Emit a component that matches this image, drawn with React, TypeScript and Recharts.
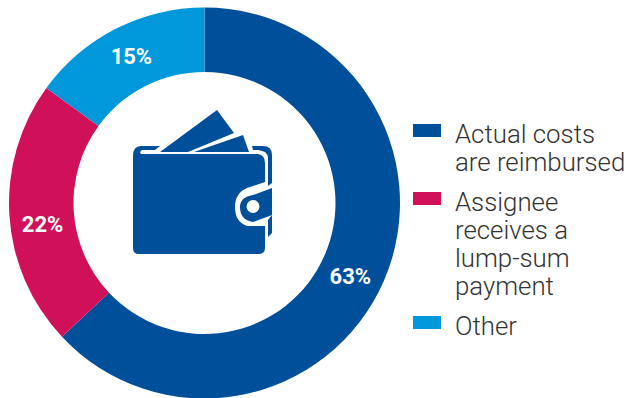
import React from 'react';
import { Legend, Pie, PieChart, Cell } from 'recharts';

const categories = ['Actual costs are reimbursed', 'Assignee receives a lump-sum payment', 'Other'];
const shares = [63, 22, 15];
const colors = ['#004f9b', '#d1105a', '#0098db'];
// how the legend text breaks in the picture
const legendLines = [
  ['Actual costs', 'are reimbursed'],
  ['Assignee', 'receives a', 'lump-sum', 'payment'],
  ['Other'],
];
// the labels do not sit exactly on the slice middle in the reference
const labelNudge = [
  [-4, 9],
  [1, 11],
  [1, -1],
];

const data = categories.map((name, i) => ({ name, value: shares[i] }));
const RAD = Math.PI / 180;

const renderLabel = ({ cx, cy, midAngle, innerRadius, outerRadius, index }: any) => {
  const r = (innerRadius + outerRadius) / 2;
  const x = cx + r * Math.cos(-midAngle * RAD) + labelNudge[index][0];
  const y = cy + r * Math.sin(-midAngle * RAD) + labelNudge[index][1];
  return (
    <text
      x={x}
      y={y}
      fill="#ffffff"
      textAnchor="middle"
      dominantBaseline="central"
      style={{ fontFamily: 'Roboto, sans-serif', fontSize: 22, fontWeight: 700 }}
    >
      {`${shares[index]}%`}
    </text>
  );
};

const LegendBlock = () => (
  <div style={{ fontFamily: 'Roboto, sans-serif', fontWeight: 300, fontSize: 25.8, lineHeight: '28.3px', color: '#333333' }}>
    {legendLines.map((lines, i) => (
      <div key={i} style={{ position: 'relative', paddingLeft: 42, marginBottom: 11 }}>
        <span
          style={{ position: 'absolute', left: 0, top: 4, width: 28, height: 13, background: colors[i] }}
        />
        {lines.map((t) => (
          <div key={t} style={{ whiteSpace: 'nowrap' }}>{t}</div>
        ))}
      </div>
    ))}
  </div>
);

const Wallet = () => (
  <svg width={628} height={398} style={{ position: 'absolute', left: 0, top: 0, pointerEvents: 'none' }}>
    <g fill="#004f9b">
      {/* notes */}
      <path d="M160 152 L217 110 L234 133 L188 152 Z" />
      <path d="M194 152 L243 135 L249 152 Z" />
      {/* back edge */}
      <path d="M133 156 Q133 146 141 146 L160 146 L155 150 L142 150 Q139 152 141 154 Q133 154 133 158 Z" />
      <path d="M252 146 L263 146 Q272 146 272 155 L272 183 L268 186 L268 158 Q268 151 258 150 L253 150 Z" />
      <path d="M268 220 L272 215 L272 233 L268 237 Z" />
      {/* body */}
      <path d="M136 154 L258 154 Q265 155 265 163 L265 182 L247 188 Q235 193 235 207 Q235 222 247 226 L265 226 L265 248 Q265 254 258 254 L139 254 Q133 254 133 248 L133 158 Q133 154 136 154 Z" />
      {/* clasp */}
      <path fillRule="evenodd" d="M272 188 L272 215 L253 222 Q240 220 240 207 Q240 197 253 195 Z M253 200 A 6.5 6.5 0 1 0 253.01 213 A 6.5 6.5 0 1 0 253 200 Z" />
    </g>
  </svg>
);

export default function App() {
  return (
    <div style={{ position: 'absolute', left: 0, top: 0, width: 628, height: 398 }}>
      <PieChart width={628} height={398} margin={{ top: 0, right: 0, bottom: 0, left: 0 }}>
        <Pie
          data={data}
          dataKey="value"
          nameKey="name"
          cx={204.5}
          cy={203}
          innerRadius={131}
          outerRadius={195.5}
          startAngle={90}
          endAngle={-270}
          stroke="none"
          label={renderLabel}
          labelLine={false}
          isAnimationActive={false}
        >
          {data.map((d, i) => (
            <Cell key={d.name} fill={colors[i]} />
          ))}
        </Pie>
        <Legend
          layout="vertical"
          content={<LegendBlock />}
          wrapperStyle={{ left: 413, top: 120, width: 215 }}
        />
      </PieChart>
      <Wallet />
    </div>
  );
}
